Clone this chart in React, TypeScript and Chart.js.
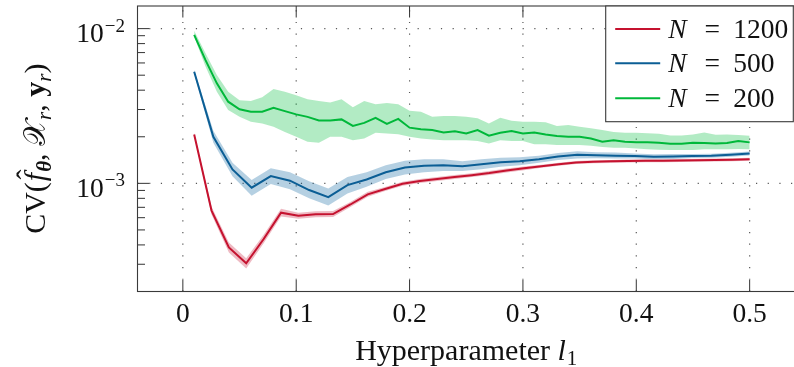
import React, { useEffect, useRef } from "react";
import { Chart, registerables } from "chart.js";

Chart.register(...registerables);

// ---------------- data ----------------
const xGreen = [
  0.01, 0.02, 0.03, 0.04, 0.05, 0.06, 0.07, 0.08, 0.09, 0.1,
  0.11, 0.12, 0.13, 0.14, 0.15, 0.16, 0.17, 0.18, 0.19, 0.2,
  0.21, 0.22, 0.23, 0.24, 0.25, 0.26, 0.27, 0.28, 0.29, 0.3,
  0.31, 0.32, 0.33, 0.34, 0.35, 0.36, 0.37, 0.38, 0.39, 0.4,
  0.41, 0.42, 0.43, 0.44, 0.45, 0.46, 0.47, 0.48, 0.49, 0.5,
];
const greenMean = [
  9.1e-3, 6.25e-3, 4.43e-3, 3.37e-3, 3.01e-3, 2.9e-3, 2.9e-3, 3.08e-3, 2.93e-3, 2.79e-3,
  2.69e-3, 2.55e-3, 2.55e-3, 2.59e-3, 2.35e-3, 2.46e-3, 2.65e-3, 2.42e-3, 2.61e-3, 2.29e-3,
  2.24e-3, 2.21e-3, 2.13e-3, 2.17e-3, 2.1e-3, 2.21e-3, 2.03e-3, 2.12e-3, 2.18e-3, 2.1e-3,
  2.13e-3, 2.07e-3, 2.02e-3, 2.0e-3, 2.0e-3, 1.95e-3, 1.86e-3, 1.9e-3, 1.86e-3, 1.84e-3,
  1.84e-3, 1.83e-3, 1.8e-3, 1.8e-3, 1.83e-3, 1.82e-3, 1.81e-3, 1.82e-3, 1.88e-3, 1.84e-3,
];
const greenHigh = [
  9.7e-3, 6.92e-3, 5.01e-3, 3.91e-3, 3.45e-3, 3.4e-3, 3.6e-3, 4.07e-3, 3.91e-3, 3.71e-3,
  3.5e-3, 3.4e-3, 3.33e-3, 3.5e-3, 3.1e-3, 3.4e-3, 3.25e-3, 3.31e-3, 3.24e-3, 2.95e-3,
  2.9e-3, 2.69e-3, 2.72e-3, 2.72e-3, 2.69e-3, 2.63e-3, 2.44e-3, 2.65e-3, 2.54e-3, 2.5e-3,
  2.5e-3, 2.48e-3, 2.35e-3, 2.38e-3, 2.32e-3, 2.27e-3, 2.21e-3, 2.15e-3, 2.12e-3, 2.12e-3,
  2.11e-3, 2.09e-3, 2.04e-3, 2.04e-3, 2.07e-3, 2.13e-3, 2.06e-3, 2.07e-3, 2.05e-3, 2.03e-3,
];
const greenLow = [
  8.85e-3, 5.68e-3, 3.91e-3, 2.98e-3, 2.69e-3, 2.5e-3, 2.44e-3, 2.32e-3, 2.15e-3, 2.0e-3,
  1.86e-3, 1.83e-3, 2.0e-3, 2.0e-3, 1.9e-3, 1.95e-3, 2.12e-3, 2.1e-3, 2.08e-3, 2.0e-3,
  1.95e-3, 1.92e-3, 1.9e-3, 1.9e-3, 1.9e-3, 1.88e-3, 1.81e-3, 1.9e-3, 1.88e-3, 1.88e-3,
  1.79e-3, 1.79e-3, 1.77e-3, 1.77e-3, 1.77e-3, 1.75e-3, 1.72e-3, 1.7e-3, 1.7e-3, 1.68e-3,
  1.66e-3, 1.65e-3, 1.64e-3, 1.64e-3, 1.64e-3, 1.66e-3, 1.66e-3, 1.66e-3, 1.67e-3, 1.66e-3,
];

const xBlue = [
  0.01, 0.0269, 0.0438, 0.0607, 0.0776, 0.0945, 0.1114, 0.1283, 0.1452, 0.1621,
  0.179, 0.1959, 0.2128, 0.2297, 0.2466, 0.2634, 0.2803, 0.2972, 0.3141, 0.331,
  0.3479, 0.3648, 0.3817, 0.3986, 0.4155, 0.4324, 0.4493, 0.4662, 0.4831, 0.5,
];
const blueMean = [
  5.26e-3, 2.0e-3, 1.23e-3, 0.937e-3, 1.115e-3, 1.04e-3, 0.905e-3, 0.815e-3, 0.975e-3, 1.06e-3,
  1.18e-3, 1.265e-3, 1.3e-3, 1.31e-3, 1.29e-3, 1.33e-3, 1.37e-3, 1.39e-3, 1.43e-3, 1.49e-3,
  1.53e-3, 1.52e-3, 1.51e-3, 1.5e-3, 1.485e-3, 1.49e-3, 1.5e-3, 1.51e-3, 1.53e-3, 1.56e-3,
];
const blueHigh = [
  5.42e-3, 2.19e-3, 1.36e-3, 1.05e-3, 1.25e-3, 1.18e-3, 1.03e-3, 0.925e-3, 1.1e-3, 1.18e-3,
  1.31e-3, 1.4e-3, 1.43e-3, 1.43e-3, 1.39e-3, 1.43e-3, 1.465e-3, 1.475e-3, 1.505e-3, 1.57e-3,
  1.61e-3, 1.59e-3, 1.58e-3, 1.557e-3, 1.54e-3, 1.547e-3, 1.545e-3, 1.555e-3, 1.576e-3, 1.607e-3,
];
const blueLow = [
  5.11e-3, 1.83e-3, 1.11e-3, 0.83e-3, 0.99e-3, 0.915e-3, 0.8e-3, 0.72e-3, 0.86e-3, 0.95e-3,
  1.065e-3, 1.14e-3, 1.18e-3, 1.2e-3, 1.2e-3, 1.235e-3, 1.28e-3, 1.31e-3, 1.36e-3, 1.415e-3,
  1.45e-3, 1.455e-3, 1.445e-3, 1.445e-3, 1.43e-3, 1.435e-3, 1.456e-3, 1.466e-3, 1.485e-3, 1.515e-3,
];

const xRed = [
  0.01, 0.0253, 0.0406, 0.0559, 0.0713, 0.0866, 0.1019, 0.1172, 0.1325, 0.1478,
  0.1631, 0.1784, 0.1938, 0.2091, 0.2244, 0.2397, 0.255, 0.2703, 0.2856, 0.3009,
  0.3163, 0.3316, 0.3469, 0.3622, 0.3775, 0.3928, 0.4081, 0.4234, 0.4388, 0.4541,
  0.4694, 0.4847, 0.5,
];
const redMean = [
  2.07e-3, 0.667e-3, 0.385e-3, 0.304e-3, 0.437e-3, 0.646e-3, 0.617e-3, 0.631e-3, 0.633e-3, 0.73e-3,
  0.849e-3, 0.919e-3, 0.994e-3, 1.035e-3, 1.066e-3, 1.098e-3, 1.13e-3, 1.165e-3, 1.21e-3, 1.25e-3,
  1.288e-3, 1.327e-3, 1.366e-3, 1.38e-3, 1.387e-3, 1.393e-3, 1.4e-3, 1.4e-3, 1.404e-3, 1.41e-3,
  1.414e-3, 1.42e-3, 1.43e-3,
];
const redHigh = [
  2.12e-3, 0.705e-3, 0.415e-3, 0.328e-3, 0.465e-3, 0.685e-3, 0.645e-3, 0.66e-3, 0.662e-3, 0.758e-3,
  0.881e-3, 0.947e-3, 1.024e-3, 1.066e-3, 1.098e-3, 1.131e-3, 1.164e-3, 1.2e-3, 1.246e-3, 1.287e-3,
  1.317e-3, 1.357e-3, 1.397e-3, 1.411e-3, 1.418e-3, 1.424e-3, 1.432e-3, 1.432e-3, 1.436e-3, 1.442e-3,
  1.446e-3, 1.452e-3, 1.462e-3,
];
const redLow = [
  2.02e-3, 0.63e-3, 0.357e-3, 0.282e-3, 0.41e-3, 0.61e-3, 0.59e-3, 0.603e-3, 0.605e-3, 0.703e-3,
  0.818e-3, 0.892e-3, 0.965e-3, 1.005e-3, 1.035e-3, 1.066e-3, 1.097e-3, 1.131e-3, 1.175e-3, 1.214e-3,
  1.26e-3, 1.298e-3, 1.336e-3, 1.35e-3, 1.356e-3, 1.362e-3, 1.369e-3, 1.369e-3, 1.373e-3, 1.379e-3,
  1.383e-3, 1.389e-3, 1.398e-3,
];

const xTicks = [0, 0.1, 0.2, 0.3, 0.4, 0.5];
const xTickLabels = ["0", "0.1", "0.2", "0.3", "0.4", "0.5"];
const yMajorTicks = [1e-3, 1e-2];
const yMajorExponents = ["\u22123", "\u22122"];
const yMinorTicks = [
  2e-4, 3e-4, 4e-4, 5e-4, 6e-4, 7e-4, 8e-4, 9e-4,
  2e-3, 3e-3, 4e-3, 5e-3, 6e-3, 7e-3, 8e-3, 9e-3,
];
const legendNs = ["1200", "500", "200"];

// ---------------- styles ----------------
const FONT = '"Liberation Serif", "Times New Roman", serif';
const RED = "#c5122f";
const BLUE = "#0b5e95";
const GREEN = "#00b83a";
const RED_BAND = "rgba(200,25,55,0.30)";
const BLUE_BAND = "rgba(11,100,160,0.30)";
const GREEN_BAND = "rgba(0,190,60,0.30)";
const TICK_FS = 27.5;
const SUP_FS = 19;
const LABEL_FS = 30;
const SUB_FS = 21;

function pts(xs: number[], ys: number[]) {
  return xs.map((x, i) => ({ x, y: ys[i] }));
}

type Run = { t: string; font: string; dy?: number; dx?: number; hat?: boolean };

function runsWidth(ctx: CanvasRenderingContext2D, runs: Run[]) {
  let w = 0;
  for (const r of runs) {
    ctx.font = r.font;
    w += (r.dx || 0) + ctx.measureText(r.t).width;
  }
  return w;
}

function drawRuns(ctx: CanvasRenderingContext2D, runs: Run[], x: number, y: number) {
  let cx = x;
  for (const r of runs) {
    ctx.font = r.font;
    cx += r.dx || 0;
    ctx.fillText(r.t, cx, y + (r.dy || 0));
    const w = ctx.measureText(r.t).width;
    if (r.hat) {
      ctx.font = `${LABEL_FS}px ${FONT}`;
      const hw = ctx.measureText("\u02C6").width;
      ctx.fillText("\u02C6", cx + w / 2 - hw / 2 + 2.5, y - 8);
    }
    cx += w;
  }
}

const pgfAxis = {
  id: "pgfAxis",
  beforeDatasetsDraw(chart: any) {
    const { ctx, chartArea: a, scales } = chart;
    const xs = scales.x;
    const ys = scales.y;
    ctx.save();
    ctx.strokeStyle = "rgba(70,70,70,0.9)";
    ctx.lineWidth = 1.2;
    ctx.setLineDash([1.2, 10.47]);
    for (const t of xTicks) {
      const px = xs.getPixelForValue(t);
      ctx.beginPath();
      ctx.moveTo(px, a.bottom);
      ctx.lineTo(px, a.top);
      ctx.stroke();
    }
    for (const t of yMajorTicks) {
      const py = ys.getPixelForValue(t);
      ctx.beginPath();
      ctx.moveTo(a.left, py);
      ctx.lineTo(a.right, py);
      ctx.stroke();
    }
    ctx.restore();
  },
  afterDatasetsDraw(chart: any) {
    const { ctx, chartArea: a, scales } = chart;
    const xs = scales.x;
    const ys = scales.y;
    ctx.save();
    // tick marks
    ctx.strokeStyle = "#333";
    ctx.lineWidth = 1;
    ctx.setLineDash([]);
    for (const t of xTicks) {
      const px = xs.getPixelForValue(t);
      ctx.beginPath();
      ctx.moveTo(px, a.bottom);
      ctx.lineTo(px, a.bottom - 11.5);
      ctx.moveTo(px, a.top);
      ctx.lineTo(px, a.top + 11.5);
      ctx.stroke();
    }
    for (const t of yMajorTicks) {
      const py = ys.getPixelForValue(t);
      ctx.beginPath();
      ctx.moveTo(a.left, py);
      ctx.lineTo(a.left + 11.5, py);
      ctx.stroke();
    }
    for (const t of yMinorTicks) {
      const py = ys.getPixelForValue(t);
      ctx.beginPath();
      ctx.moveTo(a.left, py);
      ctx.lineTo(a.left + 7.5, py);
      ctx.stroke();
    }
    // frame
    ctx.strokeStyle = "#3a3a3a";
    ctx.lineWidth = 1.1;
    ctx.strokeRect(a.left, a.top, a.right - a.left, a.bottom - a.top);

    // tick labels
    ctx.fillStyle = "#111";
    ctx.textBaseline = "alphabetic";
    ctx.textAlign = "left";
    ctx.font = `${TICK_FS}px ${FONT}`;
    xTicks.forEach((t, i) => {
      const px = xs.getPixelForValue(t);
      const w = ctx.measureText(xTickLabels[i]).width;
      ctx.fillText(xTickLabels[i], px - w / 2, a.bottom + 30.5);
    });
    yMajorTicks.forEach((t, i) => {
      const py = ys.getPixelForValue(t);
      ctx.font = `${TICK_FS}px ${FONT}`;
      const wb = ctx.measureText("10").width;
      ctx.font = `${SUP_FS}px ${FONT}`;
      const we = ctx.measureText(yMajorExponents[i]).width;
      const x0 = a.left - 12.5 - wb - we - 1;
      ctx.font = `${TICK_FS}px ${FONT}`;
      ctx.fillText("10", x0, py + 13.3);
      ctx.font = `${SUP_FS}px ${FONT}`;
      ctx.fillText(yMajorExponents[i], x0 + wb + 1, py + 3);
    });

    // x axis label
    const xRuns: Run[] = [
      { t: "Hyperparameter ", font: `${LABEL_FS}px ${FONT}` },
      { t: "l", font: `italic ${LABEL_FS}px ${FONT}` },
      { t: "1", font: `${SUB_FS}px ${FONT}`, dy: 5, dx: 1 },
    ];
    const xw = runsWidth(ctx, xRuns);
    drawRuns(ctx, xRuns, (a.left + a.right) / 2 - xw / 2, 360);

    // y axis label (rotated)
    const yRuns: Run[] = [
      { t: "CV(", font: `${LABEL_FS}px ${FONT}` },
      { t: "f", font: `italic ${LABEL_FS}px ${FONT}`, hat: true, dx: 1 },
      { t: "\u03B8", font: `bold italic ${SUB_FS}px ${FONT}`, dy: 6, dx: 1 },
      { t: ", ", font: `${LABEL_FS}px ${FONT}` },
      { t: "\uD835\uDCB3", font: `${LABEL_FS}px ${FONT}` },
      { t: "r", font: `italic ${SUB_FS}px ${FONT}`, dy: 6 },
      { t: ", ", font: `${LABEL_FS}px ${FONT}` },
      { t: "y", font: `bold ${LABEL_FS}px ${FONT}` },
      { t: "r", font: `italic ${SUB_FS}px ${FONT}`, dy: 6 },
      { t: ")", font: `${LABEL_FS}px ${FONT}` },
    ];
    const yw = runsWidth(ctx, yRuns);
    ctx.save();
    ctx.translate(45, (a.top + a.bottom) / 2 + yw / 2);
    ctx.rotate(-Math.PI / 2);
    drawRuns(ctx, yRuns, 0, 0);
    ctx.restore();

    // legend
    const lr = a.right - 1.7;
    const lt = a.top;
    const lw = 187.6;
    const lh = 115.7;
    const ll = lr - lw;
    ctx.fillStyle = "#fff";
    ctx.fillRect(ll, lt, lw, lh);
    ctx.strokeStyle = "#3a3a3a";
    ctx.lineWidth = 1.1;
    ctx.strokeRect(ll, lt, lw, lh);
    const colors = [RED, BLUE, GREEN];
    const rowY = [23, 57.3, 92.3];
    legendNs.forEach((n, i) => {
      const cy = lt + rowY[i];
      ctx.strokeStyle = colors[i];
      ctx.lineWidth = 2;
      ctx.beginPath();
      ctx.moveTo(ll + 9.5, cy);
      ctx.lineTo(ll + 54.5, cy);
      ctx.stroke();
      ctx.fillStyle = "#111";
      const base = cy + 8.5;
      ctx.font = `italic ${TICK_FS}px ${FONT}`;
      ctx.fillText("N", ll + 62.5, base);
      ctx.font = `${TICK_FS}px ${FONT}`;
      const we = ctx.measureText("=").width;
      ctx.fillText("=", ll + 106.5 - we / 2, base);
      ctx.fillText(n, ll + 127.5, base);
    });
    ctx.restore();
  },
};

export default function App() {
  const ref = useRef<HTMLCanvasElement | null>(null);
  useEffect(() => {
    if (!ref.current) return;
    const lineDs = (label: string, xs: number[], ys: number[], color: string) => ({
      label,
      data: pts(xs, ys),
      borderColor: color,
      backgroundColor: color,
      borderWidth: 2,
      pointRadius: 0,
      fill: false,
      tension: 0,
      order: 0,
    });
    const bandHi = (xs: number[], ys: number[], color: string) => ({
      label: "",
      data: pts(xs, ys),
      borderWidth: 0,
      borderColor: "rgba(0,0,0,0)",
      backgroundColor: color,
      pointRadius: 0,
      fill: "+1",
      tension: 0,
      order: 10,
    });
    const bandLo = (xs: number[], ys: number[]) => ({
      label: "",
      data: pts(xs, ys),
      borderWidth: 0,
      borderColor: "rgba(0,0,0,0)",
      pointRadius: 0,
      fill: false,
      tension: 0,
      order: 10,
    });
    const chart = new Chart(ref.current, {
      type: "line",
      data: {
        datasets: [
          lineDs("N = 1200", xRed, redMean, RED),
          lineDs("N = 500", xBlue, blueMean, BLUE),
          lineDs("N = 200", xGreen, greenMean, GREEN),
          bandHi(xRed, redHigh, RED_BAND),
          bandLo(xRed, redLow),
          bandHi(xBlue, blueHigh, BLUE_BAND),
          bandLo(xBlue, blueLow),
          bandHi(xGreen, greenHigh, GREEN_BAND),
          bandLo(xGreen, greenLow),
        ] as any,
      },
      options: {
        animation: false,
        responsive: false,
        devicePixelRatio: 1,
        layout: { padding: { left: 137.5, top: 6, right: 2, bottom: 75.5 } },
        scales: {
          x: { type: "linear", min: -0.04, max: 0.54, display: false },
          y: { type: "logarithmic", min: 2e-4, max: 1.4e-2, display: false },
        },
        plugins: {
          legend: { display: false },
          tooltip: { enabled: false },
        },
        events: [],
      } as any,
      plugins: [pgfAxis],
    });
    return () => chart.destroy();
  }, []);
  return (
    <div
      style={{
        position: "absolute",
        left: 0,
        top: 0,
        width: 794,
        height: 367,
        overflow: "hidden",
        background: "#fff",
      }}
    >
      <canvas ref={ref} width={797} height={367} style={{ display: "block", width: 797, height: 367 }} />
    </div>
  );
}
